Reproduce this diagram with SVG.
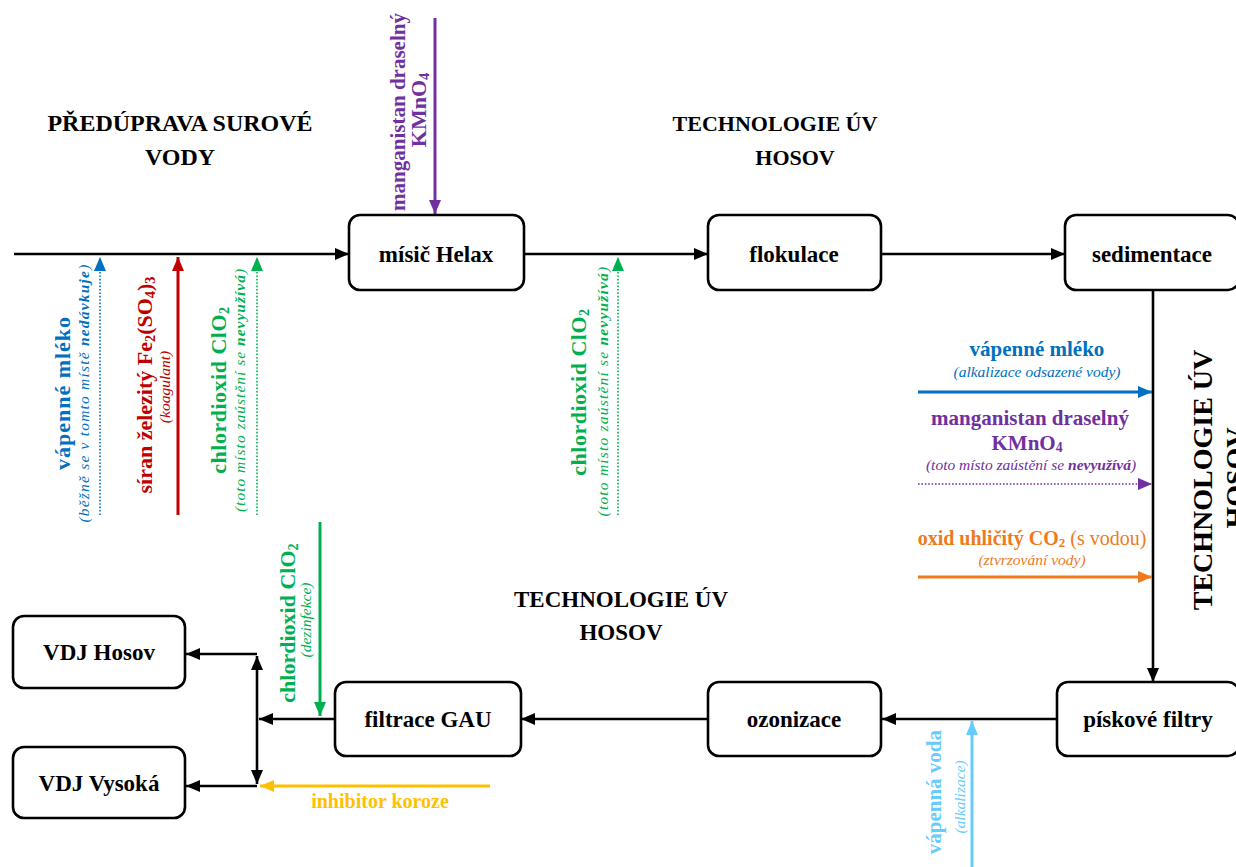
<svg xmlns="http://www.w3.org/2000/svg" width="1236" height="867" viewBox="0 0 1236 867">
<style>
text{font-family:"Liberation Serif","Times New Roman",serif;}
.box{fill:#fff;stroke:#000;stroke-width:2.6;}
.lbl{font-size:23px;font-weight:bold;fill:#000;text-anchor:middle;}
.hd{font-size:23px;font-weight:bold;fill:#000;text-anchor:middle;}
.b{font-weight:bold;}
.it{font-style:italic;}
.k{stroke:#000;stroke-width:2.6;fill:none;}
.dot{stroke-width:1.6;stroke-dasharray:1.6 1.8;fill:none;}
.sol{stroke-width:3;fill:none;}
.sub{font-size:65%;}
</style>
<defs>
<marker id="ak" viewBox="0 0 14 12" refX="14" refY="6" markerWidth="14" markerHeight="12" markerUnits="userSpaceOnUse" orient="auto-start-reverse"><path d="M0,0 L14,6 L0,12 z" fill="#000"/></marker>
<marker id="ab" viewBox="0 0 14 12" refX="14" refY="6" markerWidth="14" markerHeight="12" markerUnits="userSpaceOnUse" orient="auto"><path d="M0,0 L14,6 L0,12 z" fill="#0070C0"/></marker>
<marker id="ar" viewBox="0 0 14 12" refX="14" refY="6" markerWidth="14" markerHeight="12" markerUnits="userSpaceOnUse" orient="auto"><path d="M0,0 L14,6 L0,12 z" fill="#C00000"/></marker>
<marker id="ag" viewBox="0 0 14 12" refX="14" refY="6" markerWidth="14" markerHeight="12" markerUnits="userSpaceOnUse" orient="auto"><path d="M0,0 L14,6 L0,12 z" fill="#00B050"/></marker>
<marker id="ap" viewBox="0 0 14 12" refX="14" refY="6" markerWidth="14" markerHeight="12" markerUnits="userSpaceOnUse" orient="auto"><path d="M0,0 L14,6 L0,12 z" fill="#7030A0"/></marker>
<marker id="ao" viewBox="0 0 14 12" refX="14" refY="6" markerWidth="14" markerHeight="12" markerUnits="userSpaceOnUse" orient="auto"><path d="M0,0 L14,6 L0,12 z" fill="#EE7A1E"/></marker>
<marker id="ay" viewBox="0 0 14 12" refX="14" refY="6" markerWidth="14" markerHeight="12" markerUnits="userSpaceOnUse" orient="auto"><path d="M0,0 L14,6 L0,12 z" fill="#FFC000"/></marker>
<marker id="al" viewBox="0 0 14 12" refX="14" refY="6" markerWidth="14" markerHeight="12" markerUnits="userSpaceOnUse" orient="auto"><path d="M0,0 L14,6 L0,12 z" fill="#66CCFF"/></marker>
</defs>

<g id="headings">
<text class="hd" style="font-size:24px" x="180" y="131">PŘEDÚPRAVA SUROVÉ</text>
<text class="hd" style="font-size:24px" x="180" y="165">VODY</text>
<text class="hd" style="font-size:22px" x="775" y="131">TECHNOLOGIE ÚV</text>
<text class="hd" style="font-size:22px" x="795" y="165">HOSOV</text>
<text class="hd" x="621" y="607">TECHNOLOGIE ÚV</text>
<text class="hd" x="621" y="640">HOSOV</text>
<text class="hd" style="font-size:28px" transform="translate(1212,480) rotate(-90)">TECHNOLOGIE ÚV</text>
<text class="hd" style="font-size:28px" transform="translate(1245,478) rotate(-90)">HOSOV</text>
</g>

<g id="connectors">
<line class="k" x1="14" y1="254" x2="349" y2="254" marker-end="url(#ak)"/>
<line class="k" x1="524" y1="254" x2="708" y2="254" marker-end="url(#ak)"/>
<line class="k" x1="881" y1="254" x2="1065" y2="254" marker-end="url(#ak)"/>
<line class="k" x1="1153" y1="290" x2="1153" y2="682" marker-end="url(#ak)"/>
<line class="k" x1="1057" y1="719" x2="882" y2="719" marker-end="url(#ak)"/>
<line class="k" x1="708" y1="719" x2="521" y2="719" marker-end="url(#ak)"/>
<line class="k" x1="335" y1="719" x2="259" y2="719" marker-end="url(#ak)"/>
<line class="k" x1="257" y1="656" x2="257" y2="784" marker-start="url(#ak)" marker-end="url(#ak)"/>
<polyline class="k" points="257,654 186,654" marker-end="url(#ak)"/>
<polyline class="k" points="257,786 186,786" marker-end="url(#ak)"/>
</g>

<g id="dosing">
<line class="dot" stroke="#0070C0" x1="100" y1="515" x2="100" y2="257" marker-end="url(#ab)"/>
<line class="sol" stroke="#C00000" x1="178" y1="515" x2="178" y2="257" marker-end="url(#ar)"/>
<line class="dot" stroke="#00B050" x1="257" y1="515" x2="257" y2="257" marker-end="url(#ag)"/>
<line class="dot" stroke="#00B050" x1="618" y1="515" x2="618" y2="257" marker-end="url(#ag)"/>
<line class="sol" stroke="#7030A0" x1="435" y1="18" x2="435" y2="214" marker-end="url(#ap)"/>
<line class="sol" stroke="#0070C0" x1="918" y1="392" x2="1152" y2="392" marker-end="url(#ab)"/>
<line class="dot" stroke="#7030A0" x1="918" y1="484" x2="1152" y2="484" marker-end="url(#ap)"/>
<line class="sol" stroke="#EE7A1E" x1="918" y1="577" x2="1152" y2="577" marker-end="url(#ao)"/>
<line class="sol" stroke="#00B050" stroke-width="2.6" x1="320" y1="522" x2="320" y2="716" marker-end="url(#ag)"/>
<line class="sol" stroke="#66CCFF" x1="972" y1="867" x2="972" y2="721" marker-end="url(#al)"/>
<line class="sol" stroke="#FFC000" x1="490" y1="786" x2="260" y2="786" marker-end="url(#ay)"/>
</g>

<g id="dosing-labels">
<text fill="#0070C0" class="b" font-size="22" text-anchor="middle" letter-spacing="1" transform="translate(70,393) rotate(-90)">vápenné mléko</text>
<text fill="#0070C0" class="it" font-size="15.5" text-anchor="middle" letter-spacing="1.2" transform="translate(89,393) rotate(-90)">(běžně se v tomto místě <tspan class="b">nedávkuje</tspan>)</text>
<text fill="#C00000" class="b" font-size="22" text-anchor="middle" transform="translate(152,385) rotate(-90)">síran železitý Fe<tspan class="sub" baseline-shift="-3">2</tspan>(SO<tspan class="sub" baseline-shift="-3">4</tspan>)<tspan class="sub" baseline-shift="-3">3</tspan></text>
<text fill="#C00000" class="it" font-size="15.5" text-anchor="middle" transform="translate(170,387) rotate(-90)">(koagulant)</text>
<text fill="#00B050" class="b" font-size="22" text-anchor="middle" letter-spacing="0.5" transform="translate(226,390) rotate(-90)">chlordioxid ClO<tspan class="sub" baseline-shift="-3">2</tspan></text>
<text fill="#00B050" class="it" font-size="15.5" text-anchor="middle" letter-spacing="1" transform="translate(245,390) rotate(-90)">(toto místo zaústění se <tspan class="b">nevyužívá</tspan>)</text>
<text fill="#00B050" class="b" font-size="22" text-anchor="middle" letter-spacing="0.5" transform="translate(586,392) rotate(-90)">chlordioxid ClO<tspan class="sub" baseline-shift="-3">2</tspan></text>
<text fill="#00B050" class="it" font-size="15.5" text-anchor="middle" letter-spacing="1.2" transform="translate(608,391) rotate(-90)">(toto místo zaústění se <tspan class="b">nevyužívá</tspan>)</text>
<text fill="#7030A0" class="b" font-size="21" text-anchor="middle" transform="translate(405,112) rotate(-90)">manganistan draselný</text>
<text fill="#7030A0" class="b" font-size="22" text-anchor="middle" transform="translate(426,110) rotate(-90)">KMnO<tspan class="sub" baseline-shift="-3">4</tspan></text>
<text fill="#0070C0" class="b" font-size="21" text-anchor="middle" x="1037" y="356">vápenné mléko</text>
<text fill="#0070C0" class="it" font-size="15.5" text-anchor="middle" x="1037" y="377">(alkalizace odsazené vody)</text>
<text fill="#7030A0" class="b" font-size="21" text-anchor="middle" x="1030" y="425">manganistan draselný</text>
<text fill="#7030A0" class="b" font-size="21" text-anchor="middle" x="1027" y="450">KMnO<tspan class="sub" baseline-shift="-2">4</tspan></text>
<text fill="#7030A0" class="it" font-size="15.5" text-anchor="middle" x="1031" y="470">(toto místo zaústění se <tspan class="b">nevyužívá</tspan>)</text>
<text fill="#EE7A1E" font-size="20" text-anchor="middle" x="1032" y="545"><tspan class="b">oxid uhličitý CO<tspan class="sub" baseline-shift="-2">2</tspan></tspan> (s vodou)</text>
<text fill="#EE7A1E" class="it" font-size="15.5" text-anchor="middle" x="1032" y="565">(ztvrzování vody)</text>
<text fill="#00B050" class="b" font-size="22" text-anchor="middle" transform="translate(295,623) rotate(-90)">chlordioxid ClO<tspan class="sub" baseline-shift="-3">2</tspan></text>
<text fill="#00B050" class="it" font-size="15.5" text-anchor="middle" transform="translate(311,620) rotate(-90)">(dezinfekce)</text>
<text fill="#66CCFF" class="b" font-size="21" text-anchor="end" transform="translate(941,730) rotate(-90)">vápenná voda</text>
<text fill="#66CCFF" class="it" font-size="15.5" text-anchor="middle" transform="translate(965,797) rotate(-90)">(alkalizace)</text>
<text fill="#FFC000" class="b" font-size="20" text-anchor="middle" x="380" y="808">inhibitor koroze</text>
</g>

<g id="mixer"><rect class="box" x="349" y="215" width="175" height="75" rx="11"/><text class="lbl" x="436" y="262">mísič Helax</text></g>
<g id="flocculation"><rect class="box" x="708" y="215" width="173" height="75" rx="11"/><text class="lbl" x="794" y="262">flokulace</text></g>
<g id="sedimentation"><rect class="box" x="1065" y="215" width="174" height="75" rx="11"/><text class="lbl" x="1152" y="262">sedimentace</text></g>
<g id="sandfilters"><rect class="box" x="1057" y="682" width="182" height="74" rx="11"/><text class="lbl" x="1148" y="727">pískové filtry</text></g>
<g id="ozonation"><rect class="box" x="708" y="682" width="173" height="74" rx="11"/><text class="lbl" x="794" y="727">ozonizace</text></g>
<g id="gac"><rect class="box" x="335" y="682" width="186" height="74" rx="11"/><text class="lbl" x="428" y="727">filtrace GAU</text></g>
<g id="vdj-hosov"><rect class="box" x="13" y="616" width="172" height="72" rx="11"/><text class="lbl" x="99" y="660">VDJ Hosov</text></g>
<g id="vdj-vysoka"><rect class="box" x="13" y="747" width="172" height="71" rx="11"/><text class="lbl" x="99" y="791">VDJ Vysoká</text></g>
</svg>
